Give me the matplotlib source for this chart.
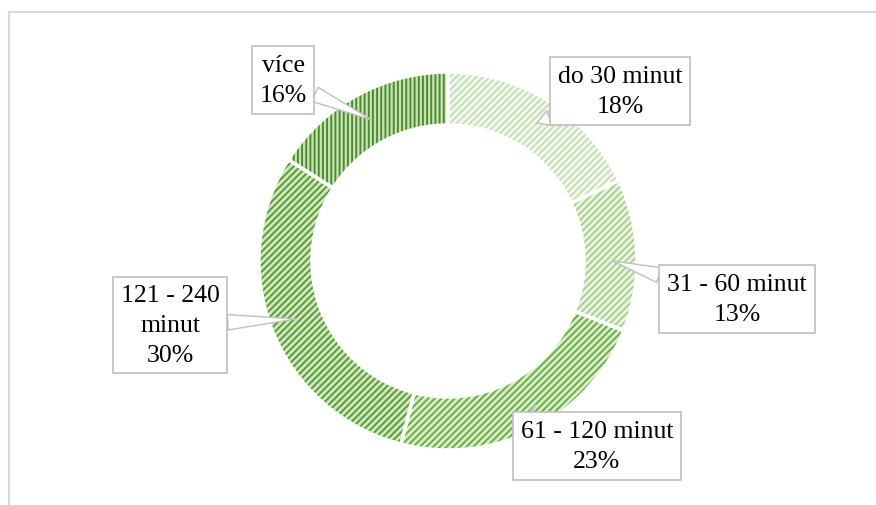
import matplotlib.pyplot as plt
from matplotlib.lines import Line2D

# data
categories = ["do 30 minut", "31 - 60 minut", "61 - 120 minut", "121 - 240\nminut", "více"]
shares = [18, 13, 23, 30, 16]

# fill (background) and hatch colours, light -> dark
bg_colors = ["#f3f9f0", "#e9f4e2", "#d8edcb", "#cfe7bf", "#c8e3b5"]
hatch_colors = ["#c3e0b0", "#a6d08c", "#6aab40", "#579a33", "#4b8a2a"]
hatches = ["/////", "/////", "/////", "/////", "||||"]

# label box centres (pixel coords, y from top) and pointer tips
label_pos = [(620, 92), (737, 300), (597, 447), (170, 326), (283, 81)]
tip_pos = [(537, 124), (613, 262), (530, 412), (296, 320), (372, 121)]

W, H = 876, 506
fig = plt.figure(figsize=(W / 100, H / 100), dpi=100)
ax = fig.add_axes([0, 0, 1, 1])

plt.rcParams["hatch.linewidth"] = 1.35

center = (448, H - 262)
radius = 189
ring = 53

wedges, _ = ax.pie(shares, radius=radius, center=center, startangle=90,
                   counterclock=False, frame=True,
                   wedgeprops=dict(width=ring, linewidth=0))
for w, bg, hc, h in zip(wedges, bg_colors, hatch_colors, hatches):
    w.set_facecolor(bg)
    w.set_edgecolor(hc)
    w.set_hatch(h)

# white gaps between slices
ax.pie(shares, radius=radius, center=center, startangle=90,
       counterclock=False, frame=True,
       wedgeprops=dict(width=ring, facecolor="none", edgecolor="white", linewidth=2.5))
ax.set_xlim(0, W)
ax.set_ylim(0, H)
ax.set_aspect("equal")
ax.axis("off")

for cat, val, (lx, ly), (tx, ty) in zip(categories, shares, label_pos, tip_pos):
    ax.annotate(f"{cat}\n{val}%", xy=(tx, H - ty), xytext=(lx, H - ly),
                ha="center", va="center", fontsize=18.5,
                family="Liberation Serif", linespacing=1.45,
                bbox=dict(boxstyle="square,pad=0.3", fc="white", ec="#bfbfbf", lw=1.2),
                arrowprops=dict(arrowstyle="wedge,tail_width=0.6,shrink_factor=0.5",
                                fc="white", ec="#bfbfbf", lw=1.0,
                                shrinkA=0, shrinkB=0))

# chart area frame (only top and left visible)
fig.add_artist(Line2D([8.5 / W, 8.5 / W], [0, 1 - 12.5 / H], color="#d9d9d9", lw=1.5))
fig.add_artist(Line2D([8.5 / W, 1], [1 - 12.5 / H, 1 - 12.5 / H], color="#d9d9d9", lw=1.5))

fig.savefig("out.png", dpi=100, facecolor="white")
